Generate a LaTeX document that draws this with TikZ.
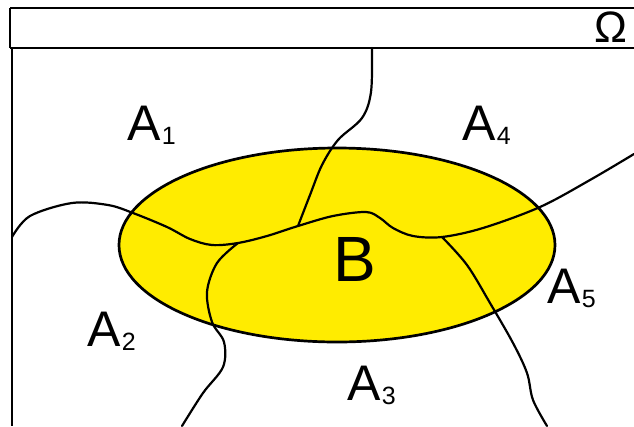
\documentclass[tikz,border=0pt]{standalone}
\usepackage{fontspec}
\setmainfont{Liberation Sans}
\definecolor{byellow}{RGB}{255,236,0}
\newcommand{\bigfont}{\fontsize{50}{50}\selectfont}
\newcommand{\subfont}{\fontsize{25}{25}\selectfont}
\newcommand{\Alab}[1]{\bigfont A\kern1.5pt\raisebox{-4pt}{\subfont #1}}
\begin{document}
\begin{tikzpicture}[x=1pt,y=-1pt,
  frameline/.style={draw=black,line width=1.8pt},
  border/.style={draw=black,line width=2.2pt,line cap=round,line join=round},
  label/.style={anchor=base west,inner sep=0pt,outer sep=0pt,text=black}]
\useasboundingbox (0,0) rectangle (634,426);
% frame
\draw[frameline] (10,8) -- (634,8);
\draw[frameline] (10,8) -- (10,48);
\draw[line width=2.2pt] (10,48) -- (634,48);
\draw[line width=2.8pt] (12,48) -- (12,426);
% set B
\coordinate (Bset) at (337,245);
\fill[byellow] (Bset) ellipse [x radius=218,y radius=97];
\draw[line width=2.7pt] (Bset) ellipse [x radius=218,y radius=97];
% junctions
\coordinate (j1) at (238,243);
\coordinate (j2) at (298,226);
\coordinate (j3) at (442,237);
% middle curve
\draw[border] plot[smooth,tension=0.55] coordinates {(12,237) (30,216) (72,203) (108,205) (133,213) (167,227) (190,239) (212,245) (j1) (267,236) (j2) (333,216) (366,212) (380,218) (393,228) (413,236) (j3) (483,228) (540,207) (590,180) (634,154)};
% top curve
\draw[border] plot[smooth,tension=0.55] coordinates {(372,48) (371,92) (362,118) (338,140) (322,165) (310,195) (j2)};
% lower-left curve
\draw[border] plot[smooth,tension=0.55] coordinates {(j1) (217,263) (207,292) (212,322) (224,342) (223,367) (203,393) (182,426)};
% lower-right curve
\draw[border] plot[smooth,tension=0.55] coordinates {(j3) (467,265) (490,303) (513,343) (527,373) (533,400) (547,426)};
% labels
\node[anchor=base,inner sep=0pt] (omega) at (611,42) {\fontsize{44}{44}\selectfont Ω};
\node[label] (a1) at (127,140) {\Alab{1}};
\node[label] (a4) at (462,140) {\Alab{4}};
\node[label] (a5) at (547,303) {\Alab{5}};
\node[label] (a2) at (87,346) {\Alab{2}};
\node[label] (a3) at (347,400) {\Alab{3}};
\node[anchor=base west,inner sep=0pt] (b) at (333,281) {\fontsize{64}{64}\selectfont B};
\end{tikzpicture}
\end{document}
